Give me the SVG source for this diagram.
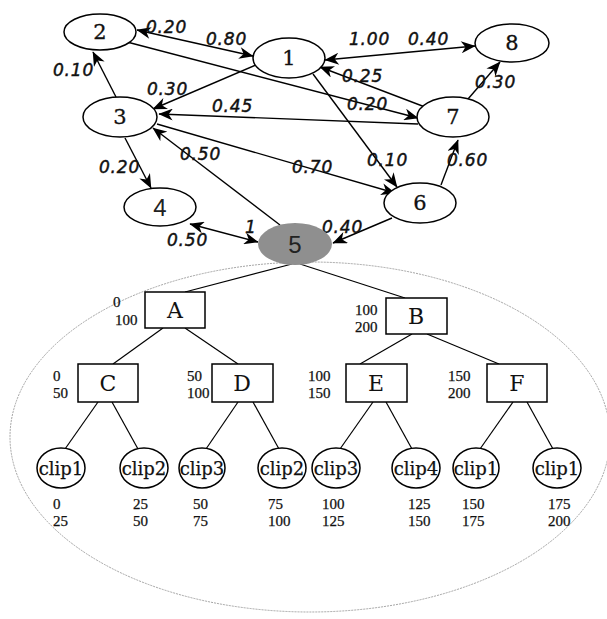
<svg xmlns="http://www.w3.org/2000/svg" width="607" height="619" viewBox="0 0 607 619">
<style>
.n{fill:#fff;stroke:#000;stroke-width:1.5}
.e{stroke:#000;stroke-width:1.4;fill:none}
.t{stroke:#000;stroke-width:1.2;fill:none}
.lbl{font-family:"DejaVu Sans",sans-serif;font-style:italic;font-size:17px;letter-spacing:0.8px;fill:#111;stroke:#111;stroke-width:0.45}
.nl{font-family:"DejaVu Serif",serif;font-size:21px;text-anchor:middle;fill:#111;stroke:#111;stroke-width:0.3}
.ns{font-family:"Liberation Sans",sans-serif;font-size:24px;text-anchor:middle;fill:#222}
.rl{font-family:"DejaVu Serif",serif;font-size:22px;text-anchor:middle;fill:#111}
.cl{font-family:"DejaVu Serif",serif;font-size:18px;text-anchor:middle;fill:#111;stroke:#111;stroke-width:0.25}
.num{font-family:"Liberation Serif",serif;font-size:15px;fill:#111;stroke:#111;stroke-width:0.25}
</style>
<defs>
<marker id="ah" viewBox="0 0 12 10" refX="11.5" refY="5" markerWidth="15" markerHeight="12" markerUnits="userSpaceOnUse" orient="auto-start-reverse">
<path d="M0,0 L12,5 L0,10 L3.5,5 z" fill="#000"/>
</marker>
</defs>
<rect width="607" height="619" fill="#fff"/>
<ellipse cx="310" cy="437" rx="300" ry="175" fill="none" stroke="#999" stroke-width="0.9" stroke-dasharray="2 1"/>
<g id="connectors">
<line class="e" x1="137" y1="30" x2="253" y2="56" marker-start="url(#ah)" marker-end="url(#ah)"/>
<line class="e" x1="127" y1="42" x2="418" y2="118" marker-end="url(#ah)"/>
<line class="e" x1="256" y1="65" x2="153" y2="109" marker-end="url(#ah)"/>
<line class="e" x1="116" y1="97" x2="93" y2="52" marker-end="url(#ah)"/>
<line class="e" x1="418" y1="124" x2="159" y2="114" marker-end="url(#ah)"/>
<line class="e" x1="325" y1="60" x2="475" y2="46" marker-start="url(#ah)" marker-end="url(#ah)"/>
<line class="e" x1="425" y1="107" x2="320" y2="67" marker-end="url(#ah)"/>
<line class="e" x1="468" y1="99" x2="500" y2="62" marker-end="url(#ah)"/>
<line class="e" x1="313" y1="74" x2="397" y2="187" marker-end="url(#ah)"/>
<line class="e" x1="157" y1="124" x2="395" y2="193" marker-end="url(#ah)"/>
<line class="e" x1="441" y1="185" x2="458" y2="140" marker-end="url(#ah)"/>
<line class="e" x1="392" y1="218" x2="333" y2="243" marker-end="url(#ah)"/>
<line class="e" x1="125" y1="138" x2="151" y2="188" marker-end="url(#ah)"/>
<line class="e" x1="280" y1="225" x2="153" y2="128" marker-end="url(#ah)"/>
<line class="e" x1="190" y1="224" x2="258" y2="242" marker-start="url(#ah)" marker-end="url(#ah)"/>
<line class="t" x1="292" y1="264" x2="185" y2="292"/>
<line class="t" x1="300" y1="264" x2="405" y2="298"/>
<line class="t" x1="163" y1="328" x2="113" y2="364"/>
<line class="t" x1="185" y1="328" x2="238" y2="364"/>
<line class="t" x1="412" y1="334" x2="360" y2="364"/>
<line class="t" x1="427" y1="334" x2="499" y2="364"/>
<line class="t" x1="98" y1="402" x2="65" y2="449"/>
<line class="t" x1="112" y1="402" x2="138" y2="449"/>
<line class="t" x1="238" y1="402" x2="206" y2="449"/>
<line class="t" x1="253" y1="402" x2="279" y2="449"/>
<line class="t" x1="373" y1="402" x2="340" y2="449"/>
<line class="t" x1="386" y1="402" x2="412" y2="449"/>
<line class="t" x1="513" y1="402" x2="480" y2="449"/>
<line class="t" x1="527" y1="402" x2="553" y2="449"/>
</g>
<g id="edge-labels">
<text class="lbl" x="146" y="33">0.20</text>
<text class="lbl" x="206" y="45">0.80</text>
<text class="lbl" x="53" y="76">0.10</text>
<text class="lbl" x="147" y="95">0.30</text>
<text class="lbl" x="212" y="112">0.45</text>
<text class="lbl" x="349" y="45">1.00</text>
<text class="lbl" x="408" y="45">0.40</text>
<text class="lbl" x="342" y="82">0.25</text>
<text class="lbl" x="347" y="110">0.20</text>
<text class="lbl" x="475" y="88">0.30</text>
<text class="lbl" x="180" y="160">0.50</text>
<text class="lbl" x="99" y="173">0.20</text>
<text class="lbl" x="292" y="173">0.70</text>
<text class="lbl" x="367" y="166">0.10</text>
<text class="lbl" x="447" y="166">0.60</text>
<text class="lbl" x="322" y="233">0.40</text>
<text class="lbl" x="167" y="246">0.50</text>
<text class="lbl" x="245" y="233">1</text>
</g>
<g id="node-1"><ellipse class="n" cx="289" cy="58" rx="36" ry="20"/><text class="nl" x="289" y="65">1</text></g>
<g id="node-2"><ellipse class="n" cx="100" cy="32" rx="36" ry="18"/><text class="nl" x="100" y="39">2</text></g>
<g id="node-3"><ellipse class="n" cx="120" cy="117" rx="37" ry="20"/><text class="nl" x="120" y="124">3</text></g>
<g id="node-4"><ellipse class="n" cx="160" cy="207" rx="36" ry="19"/><text class="ns" x="160" y="216">4</text></g>
<g id="node-5"><ellipse cx="295" cy="244" rx="37" ry="21" fill="#8f8f8f"/><text class="ns" x="295" y="253">5</text></g>
<g id="node-6"><ellipse class="n" cx="420" cy="203" rx="36" ry="20"/><text class="nl" x="420" y="210">6</text></g>
<g id="node-7"><ellipse class="n" cx="453" cy="117" rx="36" ry="20"/><text class="nl" x="453" y="124">7</text></g>
<g id="node-8"><ellipse class="n" cx="512" cy="43" rx="37" ry="19"/><text class="nl" x="512" y="50">8</text></g>
<g id="node-A"><rect class="n" x="145" y="292" width="60" height="36"/><text class="rl" x="175" y="318">A</text><text class="num" x="113" y="307">0</text><text class="num" x="115" y="325">100</text></g>
<g id="node-B"><rect class="n" x="386" y="298" width="61" height="36"/><text class="rl" x="416" y="324">B</text><text class="num" x="355" y="315">100</text><text class="num" x="355" y="332">200</text></g>
<g id="node-C"><rect class="n" x="78" y="364" width="60" height="38"/><text class="rl" x="108" y="391">C</text><text class="num" x="53" y="381">0</text><text class="num" x="53" y="398">50</text></g>
<g id="node-D"><rect class="n" x="212" y="364" width="61" height="38"/><text class="rl" x="242" y="391">D</text><text class="num" x="187" y="381">50</text><text class="num" x="187" y="398">100</text></g>
<g id="node-E"><rect class="n" x="346" y="364" width="61" height="38"/><text class="rl" x="376" y="391">E</text><text class="num" x="308" y="381">100</text><text class="num" x="308" y="398">150</text></g>
<g id="node-F"><rect class="n" x="487" y="364" width="60" height="38"/><text class="rl" x="517" y="391">F</text><text class="num" x="448" y="381">150</text><text class="num" x="448" y="398">200</text></g>
<g id="clip-1"><ellipse class="n" cx="61" cy="468" rx="24" ry="20"/><text class="cl" x="61" y="475">clip1</text><text class="num" x="53" y="509">0</text><text class="num" x="53" y="526">25</text></g>
<g id="clip-2"><ellipse class="n" cx="144" cy="468" rx="24" ry="20"/><text class="cl" x="144" y="475">clip2</text><text class="num" x="133" y="509">25</text><text class="num" x="133" y="526">50</text></g>
<g id="clip-3"><ellipse class="n" cx="202" cy="468" rx="23" ry="20"/><text class="cl" x="202" y="475">clip3</text><text class="num" x="193" y="509">50</text><text class="num" x="193" y="526">75</text></g>
<g id="clip-4"><ellipse class="n" cx="282" cy="468" rx="24" ry="20"/><text class="cl" x="282" y="475">clip2</text><text class="num" x="268" y="509">75</text><text class="num" x="268" y="526">100</text></g>
<g id="clip-5"><ellipse class="n" cx="336" cy="468" rx="24" ry="20"/><text class="cl" x="336" y="475">clip3</text><text class="num" x="322" y="509">100</text><text class="num" x="322" y="526">125</text></g>
<g id="clip-6"><ellipse class="n" cx="416" cy="468" rx="24" ry="20"/><text class="cl" x="416" y="475">clip4</text><text class="num" x="408" y="509">125</text><text class="num" x="408" y="526">150</text></g>
<g id="clip-7"><ellipse class="n" cx="476" cy="468" rx="23" ry="20"/><text class="cl" x="476" y="475">clip1</text><text class="num" x="462" y="509">150</text><text class="num" x="462" y="526">175</text></g>
<g id="clip-8"><ellipse class="n" cx="557" cy="468" rx="24" ry="20"/><text class="cl" x="557" y="475">clip1</text><text class="num" x="548" y="509">175</text><text class="num" x="548" y="526">200</text></g>
</svg>
